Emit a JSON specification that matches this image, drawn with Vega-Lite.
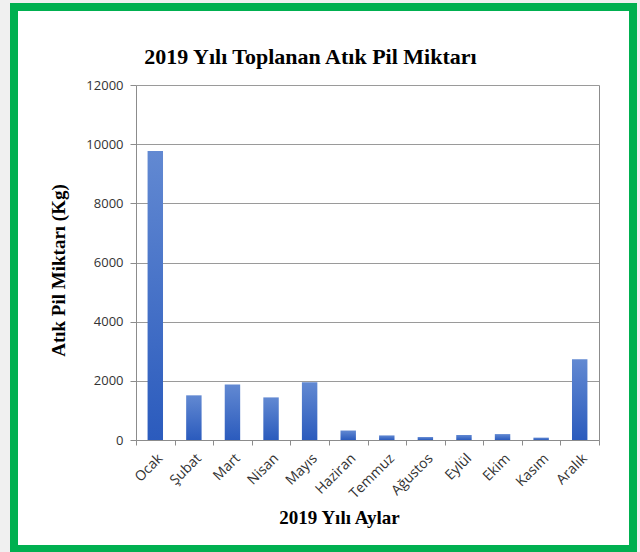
{
  "$schema": "https://vega.github.io/schema/vega-lite/v6.json",
  "autosize": "none",
  "padding": {"left": 14, "top": 7, "right": 7, "bottom": 3},
  "width": 619,
  "height": 542,
  "background": "#f0f0f0",
  "title": {
    "text": "2019 Yılı Toplanan  Atık Pil Miktarı",
    "font": "Liberation Serif",
    "fontSize": 22,
    "fontWeight": "bold",
    "color": "#000000",
    "anchor": "middle",
    "offset": -62,
    "dx": -13
  },
  "data": {
    "values": [
      {"ay": "Ocak", "miktar": 9770},
      {"ay": "Şubat", "miktar": 1510},
      {"ay": "Mart", "miktar": 1880},
      {"ay": "Nisan", "miktar": 1440},
      {"ay": "Mayıs", "miktar": 1950},
      {"ay": "Haziran", "miktar": 320},
      {"ay": "Temmuz", "miktar": 155},
      {"ay": "Ağustos", "miktar": 100},
      {"ay": "Eylül", "miktar": 170},
      {"ay": "Ekim", "miktar": 200},
      {"ay": "Kasım", "miktar": 80},
      {"ay": "Aralık", "miktar": 2730}
    ]
  },
  "encoding": {
    "x": {
      "field": "ay",
      "type": "nominal",
      "sort": null,
      "scale": {"range": [122, 585], "paddingInner": 0, "paddingOuter": 0},
      "axis": {
        "orient": "bottom",
        "offset": -109,
        "title": "2019 Yılı Aylar",
        "titleFont": "Liberation Serif",
        "titleFontSize": 19,
        "titleFontWeight": "bold",
        "titleColor": "#000000",
        "titleX": 325,
        "titleY": 83,
        "titleBaseline": "alphabetic",
        "titleAlign": "center",
        "labelAngle": -45,
        "labelAlign": "right",
        "labelBaseline": "top",
        "labelFont": "Open Sans",
        "labelFontSize": 14,
        "labelColor": "#333333",
        "labelPadding": 6,
        "tickBand": "extent",
        "tickSize": 5,
        "tickColor": "#8c8c8c",
        "domainColor": "#8c8c8c",
        "grid": false
      }
    }
  },
  "layer": [
    {
      "mark": {
        "type": "bar",
        "width": {"band": 0.4},
        "color": {
          "gradient": "linear",
          "x1": 0, "y1": 0, "x2": 0, "y2": 1,
          "stops": [
            {"offset": 0, "color": "#6289d2"},
            {"offset": 1, "color": "#2b5bbd"}
          ]
        }
      },
      "encoding": {
        "y": {
          "field": "miktar",
          "type": "quantitative",
          "scale": {"domain": [0, 12000], "range": [433, 78], "nice": false},
          "axis": {
            "orient": "left",
            "offset": -122,
            "values": [0, 2000, 4000, 6000, 8000, 10000, 12000],
            "format": "d",
            "title": "Atık  Pil  Miktarı (Kg)",
            "titleFont": "Liberation Serif",
            "titleFontSize": 19,
            "titleFontWeight": "bold",
            "titleColor": "#000000",
            "titleAngle": -90,
            "titleX": -78,
            "titleY": 263,
            "titleAlign": "center",
            "titleBaseline": "middle",
            "labelFont": "Open Sans",
            "labelFontSize": 13,
            "labelColor": "#333333",
            "labelPadding": 7,
            "tickSize": 6,
            "tickColor": "#8c8c8c",
            "domainColor": "#8c8c8c",
            "grid": true,
            "gridColor": "#9a9a9a",
            "gridWidth": 1
          }
        }
      }
    },
    {
      "mark": {"type": "bar", "opacity": 0},
      "encoding": {
        "y": {
          "field": "miktar",
          "type": "quantitative",
          "scale": {"domain": [0, 12000], "range": [433, 78], "nice": false},
          "axis": {
            "orient": "right",
            "offset": -34,
            "labels": false,
            "ticks": false,
            "grid": false,
            "title": null,
            "domainColor": "#8c8c8c"
          }
        }
      }
    }
  ],
  "resolve": {"axis": {"y": "independent"}},
  "config": {
    "view": {"stroke": "#00b050", "strokeWidth": 8, "fill": "#ffffff"}
  }
}
